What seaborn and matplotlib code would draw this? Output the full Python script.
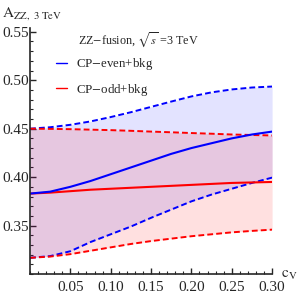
import numpy as np
import pandas as pd
import seaborn as sns
import matplotlib.pyplot as plt
from matplotlib.lines import Line2D
from matplotlib.ticker import MultipleLocator

# values
cv = [0.0, 0.025, 0.05, 0.075, 0.10, 0.125, 0.15, 0.175, 0.20, 0.225, 0.25, 0.275, 0.30]
even_mid = [0.383, 0.385, 0.390, 0.396, 0.403, 0.410, 0.417, 0.424, 0.430, 0.435, 0.440, 0.444, 0.447]
even_hi = [0.450, 0.4515, 0.454, 0.4575, 0.462, 0.467, 0.4725, 0.478, 0.4833, 0.4875, 0.4905, 0.4925, 0.4935]
even_lo = [0.3167, 0.3185, 0.3235, 0.333, 0.341, 0.349, 0.358, 0.3665, 0.375, 0.382, 0.388, 0.394, 0.3995]
odd_mid = [0.383, 0.384, 0.3855, 0.387, 0.388, 0.389, 0.390, 0.391, 0.392, 0.393, 0.394, 0.3945, 0.395]
odd_hi = [0.450, 0.4498, 0.4495, 0.449, 0.4485, 0.4478, 0.447, 0.4463, 0.4455, 0.4448, 0.444, 0.4435, 0.443]
odd_lo = [0.3167, 0.318, 0.3205, 0.324, 0.3275, 0.331, 0.334, 0.3365, 0.339, 0.341, 0.343, 0.3445, 0.3458]

df = pd.DataFrame({"cv": cv, "even_mid": even_mid, "even_hi": even_hi, "even_lo": even_lo,
                   "odd_mid": odd_mid, "odd_hi": odd_hi, "odd_lo": odd_lo})

sns.set_style("ticks")
plt.rcParams['font.family'] = ['Liberation Serif', 'DejaVu Serif']
plt.rcParams['mathtext.fontset'] = 'stix'

fig = plt.figure(figsize=(3.0, 2.94), dpi=100)
ax = fig.add_axes([0.1, 0.068, 0.807, 0.837])

ax.fill_between(df["cv"], df["even_lo"], df["even_hi"], color="blue", alpha=0.11, lw=0)
ax.fill_between(df["cv"], df["odd_lo"], df["odd_hi"], color="red", alpha=0.12, lw=0)

dash = (3, 1.6)
sns.lineplot(data=df, x="cv", y="even_hi", ax=ax, color="blue", lw=1.4, dashes=dash)
sns.lineplot(data=df, x="cv", y="even_lo", ax=ax, color="blue", lw=1.4, dashes=dash)
sns.lineplot(data=df, x="cv", y="odd_hi", ax=ax, color="red", lw=1.4, dashes=dash)
sns.lineplot(data=df, x="cv", y="odd_lo", ax=ax, color="red", lw=1.4, dashes=dash)
sns.lineplot(data=df, x="cv", y="odd_mid", ax=ax, color="red", lw=1.5)
sns.lineplot(data=df, x="cv", y="even_mid", ax=ax, color="blue", lw=1.5)

ax.set_xlim(0, 0.30)
ax.set_ylim(0.30, 0.554)
ax.set_xlabel("")
ax.set_ylabel("")
sns.despine(ax=ax)
ax.spines["left"].set_linewidth(1.2)
ax.spines["bottom"].set_linewidth(1.2)

ax.xaxis.set_major_locator(MultipleLocator(0.05))
ax.xaxis.set_minor_locator(MultipleLocator(0.01))
ax.yaxis.set_major_locator(MultipleLocator(0.05))
ax.yaxis.set_minor_locator(MultipleLocator(0.01))
ax.set_xticks([0.05, 0.10, 0.15, 0.20, 0.25, 0.30])
ax.set_xticklabels(["0.05", "0.10", "0.15", "0.20", "0.25", "0.30"])
ax.set_yticks([0.35, 0.40, 0.45, 0.50, 0.55])
ax.set_yticklabels(["0.35", "0.40", "0.45", "0.50", "0.55"])
ax.tick_params(which="major", direction="in", length=4, width=1, labelsize=11)
ax.tick_params(axis="x", which="major", pad=5)
ax.tick_params(axis="y", which="major", pad=1)
ax.tick_params(which="minor", direction="in", length=2, width=0.8)

ax.text(0.06, 0.542, r"ZZ$-$fusion, $\sqrt{s}$ =3 TeV", fontsize=8.7, va="center", ha="left")
handles = [Line2D([], [], color="blue", lw=1), Line2D([], [], color="red", lw=1)]
ax.legend(handles, [r"CP$-$even+bkg", r"CP$-$odd+bkg"], loc="upper left",
          bbox_to_anchor=(0.06, 0.933), frameon=False, fontsize=9.3,
          handlelength=0.85, handletextpad=0.7, labelspacing=0.75)

fig.text(0.005, 0.955, r"$\mathrm{A}_{\mathrm{ZZ,\ 3\ TeV}}$", fontsize=11, va="center", ha="left")
fig.text(0.938, 0.062, r"$\mathrm{c}_{\mathrm{V}}$", fontsize=11, va="center", ha="left")

fig.savefig("out.png", dpi=100)
